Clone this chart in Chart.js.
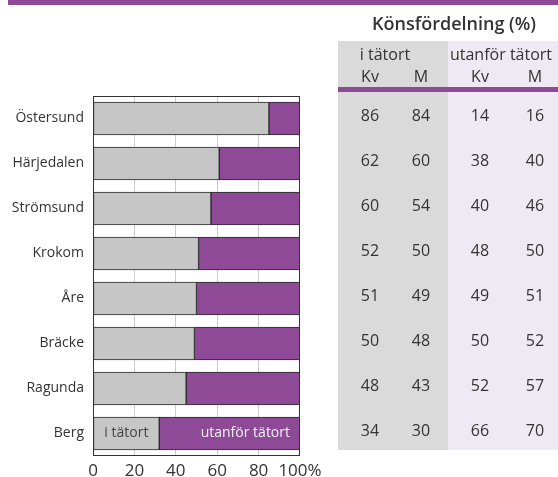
<!DOCTYPE html>
<html>
<head>
<meta charset="utf-8">
<script src="https://cdn.jsdelivr.net/npm/chart.js@4/dist/chart.umd.min.js"></script>
<style>
  html, body { margin: 0; padding: 0; background: #ffffff; }
  #wrap { position: relative; width: 558px; height: 477px; }
</style>
</head>
<body>
<div id="wrap"><canvas id="c" width="558" height="477"></canvas></div>
<script>
// ---- data ----
const categories = ['Östersund', 'Härjedalen', 'Strömsund', 'Krokom', 'Åre', 'Bräcke', 'Ragunda', 'Berg'];
const iTatort = [85, 61, 57, 51, 50, 49, 45, 32];
const utanforTatort = [15, 39, 43, 49, 50, 51, 55, 68];
const kvITatort = [86, 62, 60, 52, 51, 50, 48, 34];
const mITatort = [84, 60, 54, 50, 49, 48, 43, 30];
const kvUtanfor = [14, 38, 40, 48, 49, 50, 52, 66];
const mUtanfor = [16, 40, 46, 50, 51, 52, 57, 70];
const xTickValues = [0, 20, 40, 60, 80, 100];
const seriesNames = ['i tätort', 'utanför tätort'];
const tableTitle = 'Könsfördelning (%)';
const tableGroups = ['i tätort', 'utanför tätort'];
const tableSubHeads = ['Kv', 'M', 'Kv', 'M'];

const FONT = '"Open Sans", "DejaVu Sans", sans-serif';
const PURPLE = '#8e4a97';
const GRAY = '#c6c6c6';
const TEXT = '#333333';

const decorPlugin = {
  id: 'decor',
  beforeDraw(chart) {
    const ctx = chart.ctx;
    ctx.save();
    ctx.fillStyle = PURPLE;
    ctx.fillRect(8, 0, 550, 5);
    ctx.fillStyle = '#dadada';
    ctx.fillRect(338, 41, 110, 409);
    ctx.fillStyle = '#efe9f3';
    ctx.fillRect(448, 41, 110, 409);
    ctx.fillStyle = PURPLE;
    ctx.fillRect(338, 87, 220, 5);
    ctx.restore();
  },
  afterDatasetsDraw(chart) {
    const ctx = chart.ctx;
    const a = chart.chartArea;
    ctx.save();
    ctx.strokeStyle = '#333333';
    ctx.lineWidth = 1;
    ctx.strokeRect(Math.round(a.left) + 0.5, Math.round(a.top) + 0.5,
      Math.round(a.right - a.left) - 1, Math.round(a.bottom - a.top) - 1);

    const last = categories.length - 1;
    const b0 = chart.getDatasetMeta(0).data[last];
    const b1 = chart.getDatasetMeta(1).data[last];
    ctx.font = '14px ' + FONT;
    ctx.textBaseline = 'middle';
    ctx.textAlign = 'center';
    ctx.fillStyle = '#444444';
    ctx.fillText(seriesNames[0], (b0.base + b0.x) / 2, b0.y);
    ctx.textAlign = 'right';
    ctx.fillStyle = '#f2f2f2';
    ctx.fillText(seriesNames[1], b1.x - 10, b1.y);

    ctx.fillStyle = TEXT;
    ctx.textAlign = 'center';
    ctx.textBaseline = 'alphabetic';
    ctx.font = '600 18px ' + FONT;
    ctx.fillText(tableTitle, 454, 30);
    ctx.font = '16px ' + FONT;
    ctx.fillText(tableGroups[0], 385, 60);
    ctx.fillText(tableGroups[1], 501, 60);
    const colX = [370, 421, 480, 535];
    tableSubHeads.forEach((t, i) => ctx.fillText(t, colX[i], 82));

    const yScale = chart.scales.y;
    ctx.textBaseline = 'middle';
    const cols = [kvITatort, mITatort, kvUtanfor, mUtanfor];
    categories.forEach((c, r) => {
      const y = yScale.getPixelForValue(r) - 2;
      cols.forEach((arr, ci) => ctx.fillText(String(arr[r]), colX[ci], y));
    });
    ctx.restore();
  }
};

new Chart(document.getElementById('c'), {
  type: 'bar',
  data: {
    labels: categories,
    datasets: [
      { label: seriesNames[0], data: iTatort, backgroundColor: GRAY, borderColor: '#2a2a2a',
        borderWidth: 1, borderSkipped: false, barThickness: 33 },
      { label: seriesNames[1], data: utanforTatort, backgroundColor: PURPLE, borderColor: '#2a2a2a',
        borderWidth: 1, borderSkipped: false, barThickness: 33 }
    ]
  },
  options: {
    indexAxis: 'y',
    responsive: false,
    animation: false,
    devicePixelRatio: 1,
    layout: { padding: { left: 0, right: 258, top: 96, bottom: 0 } },
    plugins: { legend: { display: false }, tooltip: { enabled: false }, title: { display: false } },
    scales: {
      x: {
        stacked: true,
        min: 0, max: 100,
        afterBuildTicks(scale) { scale.ticks = xTickValues.map(v => ({ value: v })); },
        afterFit(scale) { scale.height = 21; },
        grid: {
          drawTicks: false,
          color: ctx => (ctx.tick && (ctx.tick.value === 0 || ctx.tick.value === 100)) ? 'rgba(0,0,0,0)' : '#cccccc',
          lineWidth: 1
        },
        border: { display: false },
        ticks: {
          padding: 5,
          color: TEXT,
          font: { family: FONT, size: 17 },
          maxRotation: 0,
          autoSkip: false,
          callback: v => v === 100 ? '100%' : String(v)
        }
      },
      y: {
        stacked: true,
        afterFit(scale) { scale.width = 93; },
        grid: { display: false, drawTicks: false },
        border: { display: false },
        ticks: {
          padding: 9,
          color: TEXT,
          font: { family: FONT, size: 14 }
        }
      }
    }
  },
  plugins: [decorPlugin]
});
</script>
</body>
</html>
